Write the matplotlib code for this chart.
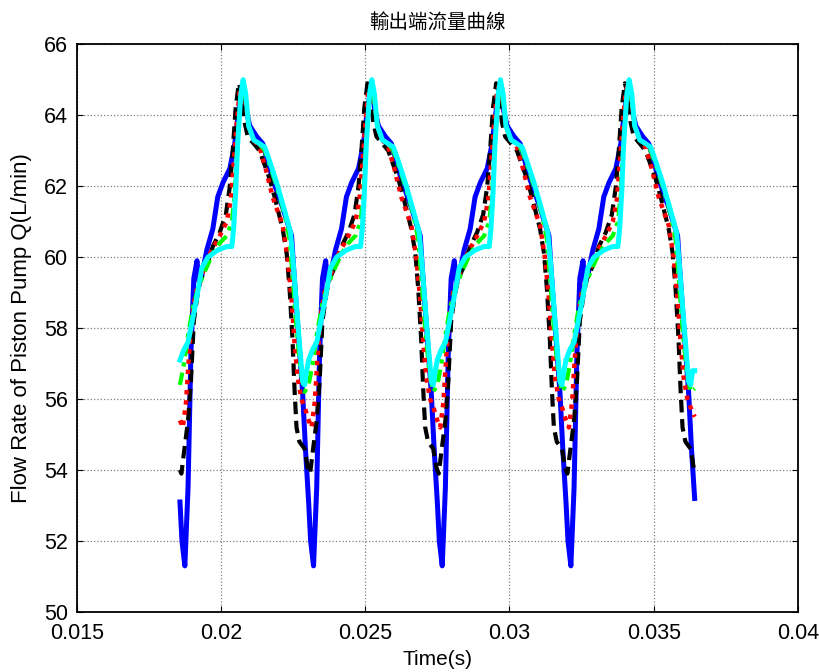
import numpy as np
from matplotlib import pyplot as plt

plt.rcParams['font.family'] = ['Liberation Sans', 'Noto Sans CJK TC']

# trace timing
t_start = 0.01858   # s
period = 0.00446    # s, one piston cycle
n_cycles = 4

# one cycle of each curve, phase in ms from t_start, Q in L/min
blue_phase = [0, 0.07, 0.17, 0.28, 0.38, 0.48, 0.59, 0.66, 0.76, 0.93, 1.14, 1.31, 1.49, 1.73,
              1.90, 2.00, 2.14, 2.19, 2.28, 2.42, 2.66, 2.87, 3.21, 3.56, 3.87, 3.94, 4.08, 4.25, 4.35]
blue_q = [53.1, 52.0, 51.3, 53.5, 57.3, 59.4, 59.9, 59.3, 59.5, 60.2, 60.8, 61.7, 62.1, 62.5,
          63.2, 63.9, 64.7, 64.9, 64.2, 63.7, 63.4, 63.2, 62.2, 61.4, 60.6, 59.7, 58.1, 56.2, 54.6]

black_phase = [0, 0.05, 0.14, 0.28, 0.38, 0.48, 0.62, 0.73, 0.90, 1.14, 1.38, 1.59, 1.73, 1.83,
               1.93, 2.04, 2.14, 2.24, 2.35, 2.56, 2.76, 3.11, 3.28, 3.56, 3.70, 3.80, 3.90, 3.97,
               4.04, 4.14, 4.32, 4.42]
black_q = [54.0, 53.9, 54.5, 55.4, 56.5, 58.2, 59.0, 59.4, 59.7, 60.3, 60.7, 61.2, 62.0, 63.0,
           64.2, 64.9, 64.6, 63.8, 63.4, 63.2, 63.0, 62.2, 61.7, 60.8, 60.1, 59.1, 57.7, 56.3,
           55.2, 54.8, 54.6, 54.1]

red_phase = [0, 0.10, 0.21, 0.31, 0.41, 0.55, 0.76, 1.04, 1.38, 1.62, 1.76, 1.86, 1.97, 2.07,
             2.18, 2.28, 2.42, 2.56, 2.76, 2.97, 3.21, 3.56, 3.73, 3.87, 3.97, 4.08, 4.21, 4.35]
red_q = [55.4, 55.2, 55.9, 57.2, 58.3, 59.0, 59.5, 60.1, 60.6, 61.0, 61.6, 62.6, 63.8, 64.7,
         64.9, 64.3, 63.6, 63.3, 63.1, 62.5, 61.7, 60.9, 60.0, 58.8, 57.6, 56.6, 56.0, 55.7]

green_phase = [0, 0.14, 0.28, 0.45, 0.62, 0.86, 1.14, 1.38, 1.62, 1.80, 1.90, 2.00, 2.11, 2.19,
               2.28, 2.38, 2.56, 2.76, 2.94, 3.11, 3.35, 3.63, 3.80, 3.90, 4.04, 4.18, 4.32]
green_q = [56.4, 57.0, 57.8, 58.6, 59.1, 59.6, 60.1, 60.4, 60.6, 61.0, 61.8, 63.3, 64.5, 64.9,
           64.4, 63.7, 63.3, 63.2, 63.0, 62.6, 62.0, 61.2, 60.5, 59.5, 58.0, 56.8, 56.2]

cyan_phase = [0, 0.14, 0.28, 0.45, 0.59, 0.76, 0.97, 1.31, 1.62, 1.80, 1.86, 1.93, 2.00, 2.11,
              2.19, 2.28, 2.38, 2.56, 2.76, 2.94, 3.11, 3.35, 3.63, 3.83, 3.92, 4.08, 4.25, 4.32, 4.39]
cyan_q = [57.1, 57.4, 57.6, 58.3, 58.9, 59.7, 60.0, 60.2, 60.3, 60.3, 60.8, 61.8, 63.2, 64.6,
          65.0, 64.6, 63.7, 63.3, 63.2, 63.1, 62.7, 62.1, 61.3, 60.7, 59.9, 58.2, 56.5, 56.4, 56.8]

# last sample of each trace (t = t_start + 4 periods)
end_q = {'blue': 53.2, 'black': 53.9, 'red': 55.5, 'green': 56.3, 'cyan': 56.8}

x_ticks = [0.015, 0.02, 0.025, 0.03, 0.035, 0.04]
x_tick_labels = ['0.015', '0.02', '0.025', '0.03', '0.035', '0.04']
y_ticks = [50, 52, 54, 56, 58, 60, 62, 64, 66]


def repeat_cycle(phase_ms, q, last):
    ph = np.asarray(phase_ms) * 1e-3
    t = [t_start + k * period + ph for k in range(n_cycles)]
    t.append([t_start + n_cycles * period])
    y = [np.asarray(q)] * n_cycles + [[last]]
    return np.concatenate(t), np.concatenate(y)


fig = plt.figure(figsize=(8.2, 6.72), dpi=100)
ax = fig.add_axes([0.0935, 0.0893, 0.8796, 0.8448])

t, q = repeat_cycle(blue_phase, blue_q, end_q['blue'])
ax.plot(t, q, color=(0, 0, 1), lw=3.6, solid_joinstyle='round')
t, q = repeat_cycle(black_phase, black_q, end_q['black'])
ax.plot(t, q, color='k', lw=3.0, dashes=(3, 1.6))
t, q = repeat_cycle(red_phase, red_q, end_q['red'])
ax.plot(t, q, color=(1, 0, 0), lw=3.2, dashes=(1, 1.3))
t, q = repeat_cycle(green_phase, green_q, end_q['green'])
ax.plot(t, q, color=(0, 1, 0), lw=3.0, dashes=(3, 1.5, 1, 1.5))
t, q = repeat_cycle(cyan_phase, cyan_q, end_q['cyan'])
ax.plot(t, q, color=(0, 1, 1), lw=3.6, solid_joinstyle='round')

ax.set_xlim(0.015, 0.04)
ax.set_ylim(50, 66)
ax.set_xticks(x_ticks)
ax.set_xticklabels(x_tick_labels)
ax.set_yticks(y_ticks)
ax.tick_params(direction='in', top=True, right=True, length=4, width=0.8,
               labelsize=15.5)
ax.tick_params(axis='x', pad=8)
ax.tick_params(axis='y', pad=6)
ax.grid(True, linestyle=':', color='#808080', lw=0.9)
for s in ax.spines.values():
    s.set_linewidth(1.3)

ax.set_xlabel('Time(s)', fontsize=15, labelpad=4)
ax.set_ylabel('Flow Rate of Piston Pump Q(L/min)', fontsize=16, labelpad=9)
ax.set_title('輸出端流量曲線', fontsize=14, family=['Noto Sans CJK TC', 'DejaVu Sans'], pad=11)

fig.savefig('out.png', dpi=100)
